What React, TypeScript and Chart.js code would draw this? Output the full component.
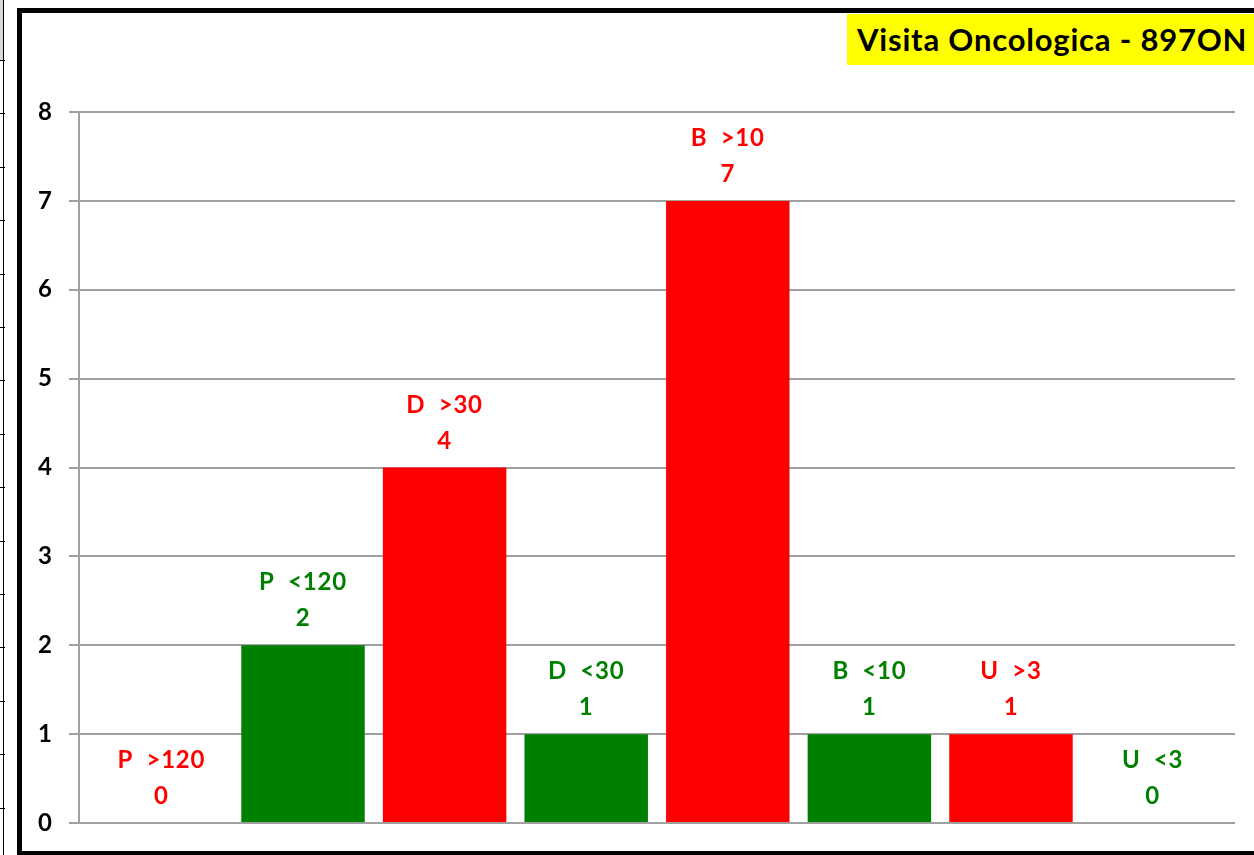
import React, { useEffect, useRef } from "react";
import { Chart, registerables } from "chart.js";

Chart.register(...registerables);

// ---- data ----
const categories = ["P  >120", "P  <120", "D  >30", "D  <30", "B  >10", "B  <10", "U  >3", "U  <3"];
const values = [0, 2, 4, 1, 7, 1, 1, 0];
const yTicks = [0, 1, 2, 3, 4, 5, 6, 7, 8];
const titleText = "Visita Oncologica - 897ON";

// ---- style ----
const RED = "#FF0000";
const GREEN = "#008000";
const GRID = "#A0A0A0";
const FONT = "Lato, 'DejaVu Sans', sans-serif";
const colorFor = (label: string) => (label.includes(">") ? RED : GREEN);

const barLabelPlugin = {
  id: "barLabels",
  afterDatasetsDraw(chart: any) {
    const ctx = chart.ctx;
    const meta = chart.getDatasetMeta(0);
    ctx.save();
    ctx.font = `bold 24px ${FONT}`;
    try {
      (ctx as any).letterSpacing = "0.8px";
    } catch (e) {}
    ctx.textAlign = "center";
    ctx.textBaseline = "alphabetic";
    meta.data.forEach((bar: any, i: number) => {
      ctx.fillStyle = colorFor(categories[i]);
      ctx.fillText(categories[i], bar.x, bar.y - 55);
      ctx.fillText(String(values[i]), bar.x, bar.y - 19);
    });
    ctx.restore();
  },
};

export default function App() {
  const canvasRef = useRef<HTMLCanvasElement | null>(null);

  useEffect(() => {
    let chart: Chart | null = null;
    let cancelled = false;
    const make = () => {
      if (cancelled || !canvasRef.current) return;
      chart = new Chart(canvasRef.current, {
        type: "bar",
        data: {
          datasets: [
            {
              data: values.map((v, i) => ({ x: i, y: v })) as any,
              backgroundColor: categories.map(colorFor),
              borderWidth: 0,
              barPercentage: 0.872,
              categoryPercentage: 1,
            },
          ],
        },
        options: {
          animation: false,
          responsive: false,
          devicePixelRatio: 1,
          layout: { padding: { left: 0, right: 19, top: 112, bottom: 32 } },
          plugins: {
            legend: { display: false },
            tooltip: { enabled: false },
            title: { display: false },
          },
          scales: {
            x: {
              type: "linear",
              offset: false,
              min: -0.582,
              max: categories.length - 1 + 0.582,
              display: false,
              grid: { offset: false },
              afterBuildTicks: (scale: any) => {
                scale.ticks = categories.map((_, i) => ({ value: i }));
              },
            },
            y: {
              min: 0,
              max: 8,
              afterBuildTicks: (scale: any) => {
                scale.ticks = yTicks.map((v) => ({ value: v }));
              },
              afterFit: (scale: any) => {
                scale.width = 79;
              },
              ticks: {
                padding: 17,
                color: "#000",
                font: { family: FONT, size: 24, weight: "bold" },
              },
              grid: { color: GRID, lineWidth: 2, tickLength: 10, drawTicks: true },
              border: { color: GRID, width: 2 },
            },
          },
        } as any,
        plugins: [barLabelPlugin],
      });
    };
    const fontsReady = (document as any).fonts
      ? Promise.all([
          (document as any).fonts.load(`bold 24px Lato`),
          (document as any).fonts.load(`bold 31px Lato`),
        ]).catch(() => null)
      : Promise.resolve(null);
    fontsReady.then(make);
    return () => {
      cancelled = true;
      if (chart) chart.destroy();
    };
  }, []);

  const rowMarks: number[] = [];
  for (let y = 60; y < 855; y += 53.4) rowMarks.push(Math.round(y));

  return (
    <div
      style={{
        position: "fixed",
        left: 0,
        top: 0,
        width: 1254,
        height: 855,
        overflow: "hidden",
        background: "#fff",
      }}
    >
      {/* spreadsheet edge at left */}
      <div style={{ position: "absolute", left: 0, top: 0, width: 3, height: 60, background: "#D9D9D9" }} />
      <div style={{ position: "absolute", left: 3, top: 0, width: 1, height: 855, background: "#000" }} />
      {rowMarks.map((y) => (
        <div key={y} style={{ position: "absolute", left: 0, top: y, width: 5, height: 1, background: "#000" }} />
      ))}
      <canvas
        ref={canvasRef}
        width={1254}
        height={855}
        style={{ position: "absolute", left: 0, top: 0, width: 1254, height: 855 }}
      />
      {/* chart frame */}
      <div
        style={{
          position: "absolute",
          left: 17,
          top: 8,
          width: 2000,
          height: 848,
          boxSizing: "border-box",
          border: "5px solid #000",
          pointerEvents: "none",
        }}
      />
      {/* title box */}
      <div
        style={{
          position: "absolute",
          left: 847,
          top: 14,
          width: 600,
          height: 51,
          background: "#FFFF00",
          color: "#000",
          fontFamily: FONT,
          fontWeight: "bold",
          fontSize: 31,
          letterSpacing: "0.8px",
          lineHeight: "51px",
          paddingLeft: 10,
          boxSizing: "border-box",
          whiteSpace: "nowrap",
        }}
      >
        {titleText}
      </div>
    </div>
  );
}
